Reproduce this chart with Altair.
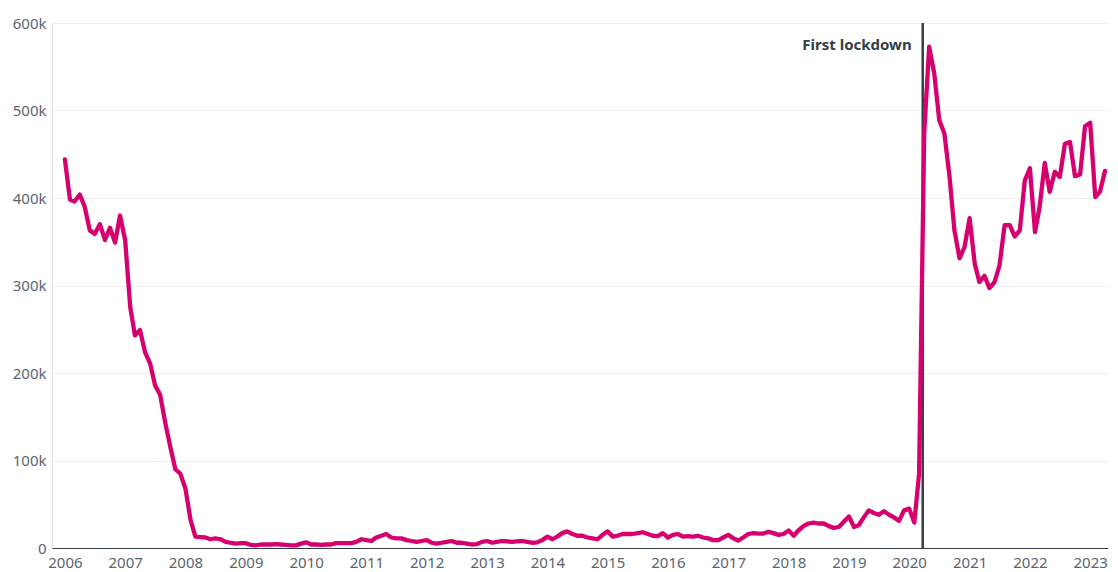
import altair as alt
import pandas as pd

# Monthly values (thousands), Jan 2006 .. Apr 2023
v2006 = [444, 398, 396, 404, 390, 363, 359, 370, 352, 366, 349, 380]
v2007 = [352, 275, 243, 249, 224, 211, 186, 175, 143, 116, 90, 85]
v2008 = [68, 32, 13, 12.5, 12, 10, 11, 10, 7, 6, 5, 5.5]
v2009 = [5.5, 3.5, 3, 4, 4, 4, 4.5, 4, 3.5, 3, 3, 5]
v2010 = [6.5, 4, 4, 3.5, 4, 4, 5.5, 5.5, 5.5, 5.5, 7, 10]
v2011 = [9, 8, 12, 14, 16, 12, 11, 11, 9, 8, 7, 8]
v2012 = [9, 6, 5, 6, 7, 8, 6, 6, 5, 4, 4.5, 7]
v2013 = [8, 6, 7, 8, 7.5, 7, 7.5, 8, 7, 6, 6.5, 9]
v2014 = [13, 10, 13, 17, 19, 16, 14, 14, 12, 11, 10, 15]
v2015 = [19, 13, 14, 16, 16, 16, 17, 18, 16, 14, 13.5, 17]
v2016 = [12, 15, 16, 13, 13.5, 13, 14, 12, 11, 9, 9, 12]
v2017 = [15, 11, 8.5, 12, 16, 17, 16.5, 16.5, 18.5, 17, 15, 16]
v2018 = [20, 14, 20, 25, 28, 29, 28, 28, 25, 23, 24, 30]
v2019 = [36, 24, 26, 35, 43, 40, 38, 42, 38, 35, 31, 43]
v2020 = [45, 29, 85, 474, 573, 542, 489, 474, 425, 363, 331, 344]
v2021 = [377, 325, 304, 311, 297, 304, 323, 369, 369, 356, 363, 420]
v2022 = [434, 361, 390, 440, 407, 430, 424, 462, 464, 425, 427, 482]
v2023 = [486, 401, 407, 431]

values = (v2006 + v2007 + v2008 + v2009 + v2010 + v2011 + v2012 + v2013 + v2014
          + v2015 + v2016 + v2017 + v2018 + v2019 + v2020 + v2021 + v2022 + v2023)
dates = pd.date_range("2006-01-01", periods=len(values), freq="MS")
df = pd.DataFrame({"date": dates, "value": values})

year_ticks = [f"{y}-01-01" for y in range(2006, 2024)]
y_ticks = [0, 100, 200, 300, 400, 500, 600]

event_df = pd.DataFrame({"date": [pd.Timestamp("2020-03-23")], "label": ["First lockdown"]})

FONT = "Noto Sans"
LINE_COLOR = "#d6006f"
DARK = "#333f48"

x_scale = alt.Scale(domain=["2005-10-15", "2023-04-19"])

line = alt.Chart(df).mark_line(color=LINE_COLOR, strokeWidth=4.3, strokeJoin="round", strokeCap="round").encode(
    x=alt.X("date:T", scale=x_scale, title=None,
            axis=alt.Axis(values=year_ticks, format="%Y", grid=False, ticks=False,
                          domain=True, domainColor=DARK, domainWidth=1.2,
                          labelFont=FONT, labelFontSize=15, labelColor="#5a6470",
                          labelPadding=7, labelFlush=False)),
    y=alt.Y("value:Q", scale=alt.Scale(domain=[0, 600], nice=False), title=None,
            axis=alt.Axis(values=y_ticks, domain=False, ticks=False, grid=True,
                          gridColor="#efefef", gridWidth=1,
                          labelExpr="datum.value == 0 ? '0' : datum.value + 'k'",
                          labelFont=FONT, labelFontSize=15, labelColor="#5a6470",
                          labelPadding=6)),
)

rule = alt.Chart(event_df).mark_rule(color=DARK, strokeWidth=2.5).encode(
    x=alt.X("date:T", scale=x_scale)
)

text = alt.Chart(event_df).mark_text(align="right", baseline="middle", dx=-11, font=FONT,
                                     fontSize=15, fontWeight="bold", color=DARK).encode(
    x=alt.X("date:T", scale=x_scale),
    y=alt.value(22),
    text="label:N",
)

chart = alt.layer(rule, line, text).properties(
    width=1056, height=525,
    padding={"left": 4, "top": 8, "right": 0, "bottom": 0},
).configure_view(stroke=None).configure(background="white")

chart.save("out.html", embed_options={"renderer": "svg", "actions": False})
